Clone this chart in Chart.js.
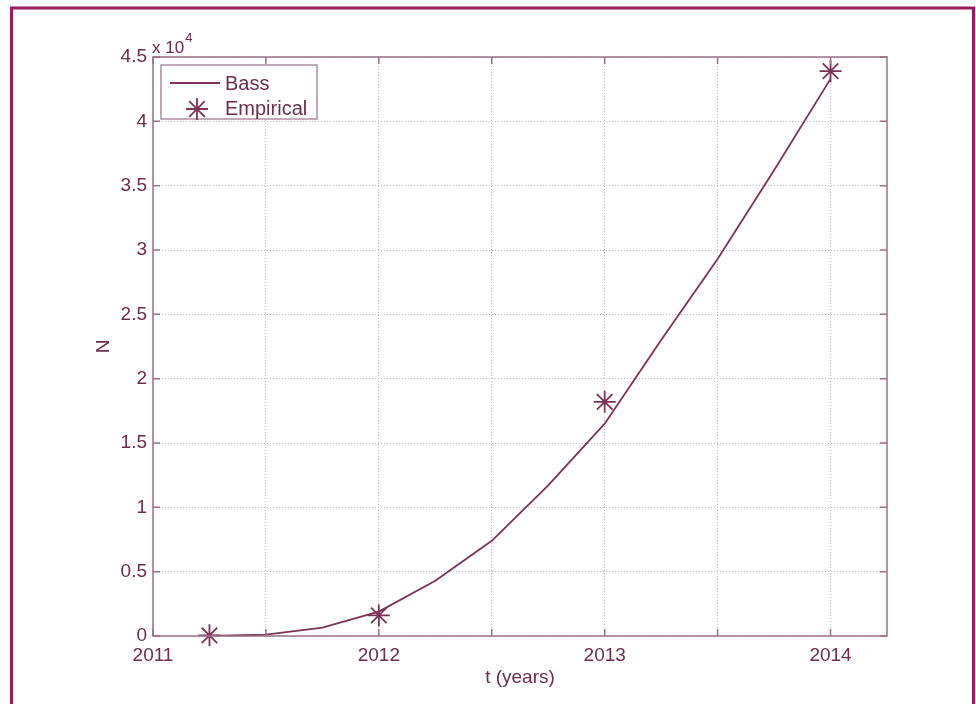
<!DOCTYPE html>
<html lang="en">
<head>
<meta charset="UTF-8">
<title>Bass model vs empirical</title>
<script src="https://cdn.jsdelivr.net/npm/chart.js"></script>
<style>
  html, body { margin: 0; padding: 0; background: #fff; }
  #wrap { width: 976px; height: 704px; position: relative; }
</style>
</head>
<body>
<div id="wrap"><canvas id="chart" width="976" height="704"></canvas></div>
<script>
// Bass model curve (quarter-year samples)
const bassYears = [2011.25, 2011.5, 2011.75, 2012, 2012.25, 2012.5, 2012.75, 2013, 2013.25, 2013.5, 2013.75, 2014]
const bassValues = [0, 100, 650, 1900, 4300, 7400, 11700, 16500, 23000, 29300, 36200, 43300]

// Empirical observations
const empiricalYears = [2011.25, 2012, 2013, 2014]
const empiricalValues = [50, 1600, 18200, 43900]

// Axis ticks
const xTickYears = [2011, 2012, 2013, 2014]
const yTickLabels = ['0', '0.5', '1', '1.5', '2', '2.5', '3', '3.5', '4', '4.5']

const INK = '#6d2c4e'
const LINE = '#7b3358'
const AXIS = '#9c7088'
const GRID = '#c4b9bf'
const FONT = 'Liberation Sans, Arial, sans-serif'

// frame, box, inward ticks, exponent and legend
const decor = {
  id: 'decor',
  beforeDraw(chart) {
    const ctx = chart.ctx
    ctx.save()
    ctx.fillStyle = '#fff'
    ctx.fillRect(0, 0, chart.width, chart.height)
    ctx.restore()
  },
  afterDraw(chart) {
    const ctx = chart.ctx
    const { left, right, top, bottom } = chart.chartArea
    const xs = chart.scales.x
    const ys = chart.scales.y
    ctx.save()

    // outer magenta frame (no bottom edge)
    ctx.strokeStyle = '#9c1a5e'
    ctx.lineWidth = 3
    ctx.beginPath()
    ctx.moveTo(11.5, chart.height)
    ctx.lineTo(11.5, 8)
    ctx.lineTo(973.5, 8)
    ctx.lineTo(973.5, chart.height)
    ctx.stroke()

    // axes box
    ctx.strokeStyle = AXIS
    ctx.lineWidth = 1.5
    ctx.strokeRect(left, top, right - left, bottom - top)

    // inward ticks
    const tl = 7
    ctx.beginPath()
    xs.ticks.forEach((t) => {
      const x = xs.getPixelForValue(t.value)
      ctx.moveTo(x, bottom); ctx.lineTo(x, bottom - tl)
      ctx.moveTo(x, top); ctx.lineTo(x, top + tl)
    })
    ys.ticks.forEach((t) => {
      const y = ys.getPixelForValue(t.value)
      ctx.moveTo(left, y); ctx.lineTo(left + tl, y)
      ctx.moveTo(right, y); ctx.lineTo(right - tl, y)
    })
    ctx.stroke()

    // x 10^4
    ctx.fillStyle = INK
    ctx.textBaseline = 'alphabetic'
    ctx.textAlign = 'left'
    ctx.font = '17px ' + FONT
    ctx.fillText('x 10', left - 1, top - 4)
    const w = ctx.measureText('x 10').width
    ctx.font = '13px ' + FONT
    ctx.fillText('4', left - 1 + w + 1, top - 15)

    // legend
    const lx = 161, ly = 65, lw = 156, lh = 54
    ctx.fillStyle = '#fff'
    ctx.fillRect(lx, ly, lw, lh)
    ctx.strokeStyle = AXIS
    ctx.lineWidth = 1.2
    ctx.strokeRect(lx, ly, lw, lh)
    const ds = chart.data.datasets
    ctx.font = '20px ' + FONT
    ctx.textBaseline = 'middle'
    // Bass
    ctx.strokeStyle = ds[0].borderColor
    ctx.lineWidth = 1.8
    ctx.beginPath()
    ctx.moveTo(170, 83); ctx.lineTo(220, 83)
    ctx.stroke()
    ctx.fillStyle = INK
    ctx.fillText(ds[0].label, 225, 84)
    // Empirical
    ctx.strokeStyle = ds[1].borderColor
    ctx.lineWidth = 1.8
    Chart.helpers.drawPoint(ctx, { pointStyle: 'star', radius: 11, borderWidth: 1.8, rotation: 0 }, 197, 109)
    ctx.fillStyle = INK
    ctx.fillText(ds[1].label, 225, 109)

    ctx.restore()
  }
}

const ctx = document.getElementById('chart').getContext('2d')
new Chart(ctx, {
  type: 'line',
  data: {
    datasets: [
      {
        label: 'Bass',
        data: bassYears.map((x, i) => ({ x, y: bassValues[i] })),
        borderColor: LINE,
        borderWidth: 1.8,
        pointRadius: 0,
        tension: 0,
        fill: false,
      },
      {
        label: 'Empirical',
        data: empiricalYears.map((x, i) => ({ x, y: empiricalValues[i] })),
        showLine: false,
        clip: false,
        borderColor: LINE,
        backgroundColor: LINE,
        pointStyle: 'star',
        pointRadius: 11,
        pointBorderWidth: 1.8,
      },
    ],
  },
  options: {
    responsive: false,
    animation: false,
    layout: { padding: { left: 0, top: 57, right: 89, bottom: 0 } },
    plugins: {
      legend: { display: false },
      tooltip: { enabled: false },
    },
    scales: {
      x: {
        type: 'linear',
        min: 2011,
        max: 2014.25,
        bounds: 'data',
        afterFit: (scale) => { scale.height = 68 },
        ticks: {
          stepSize: 0.5,
          includeBounds: false,
          autoSkip: false,
          maxRotation: 0,
          padding: 8,
          color: INK,
          font: { family: FONT, size: 19 },
          callback: (v) => (xTickYears.includes(v) ? String(v) : ''),
        },
        grid: { color: GRID, lineWidth: 1, drawTicks: false },
        border: { display: false, dash: [1, 2] },
        title: {
          display: true,
          text: 't (years)',
          color: INK,
          font: { family: FONT, size: 19 },
          padding: { top: 0, bottom: 15 },
        },
      },
      y: {
        min: 0,
        max: 45000,
        afterFit: (scale) => { scale.width = 153 },
        ticks: {
          stepSize: 5000,
          padding: 6,
          color: INK,
          font: { family: FONT, size: 19 },
          callback: (v) => yTickLabels[Math.round(v / 5000)],
        },
        grid: { color: GRID, lineWidth: 1, drawTicks: false },
        border: { display: false, dash: [1, 2] },
        title: {
          display: true,
          text: 'N',
          color: INK,
          font: { family: FONT, size: 19 },
          padding: { top: 92, bottom: 0 },
        },
      },
    },
  },
  plugins: [decor],
})
</script>
</body>
</html>
